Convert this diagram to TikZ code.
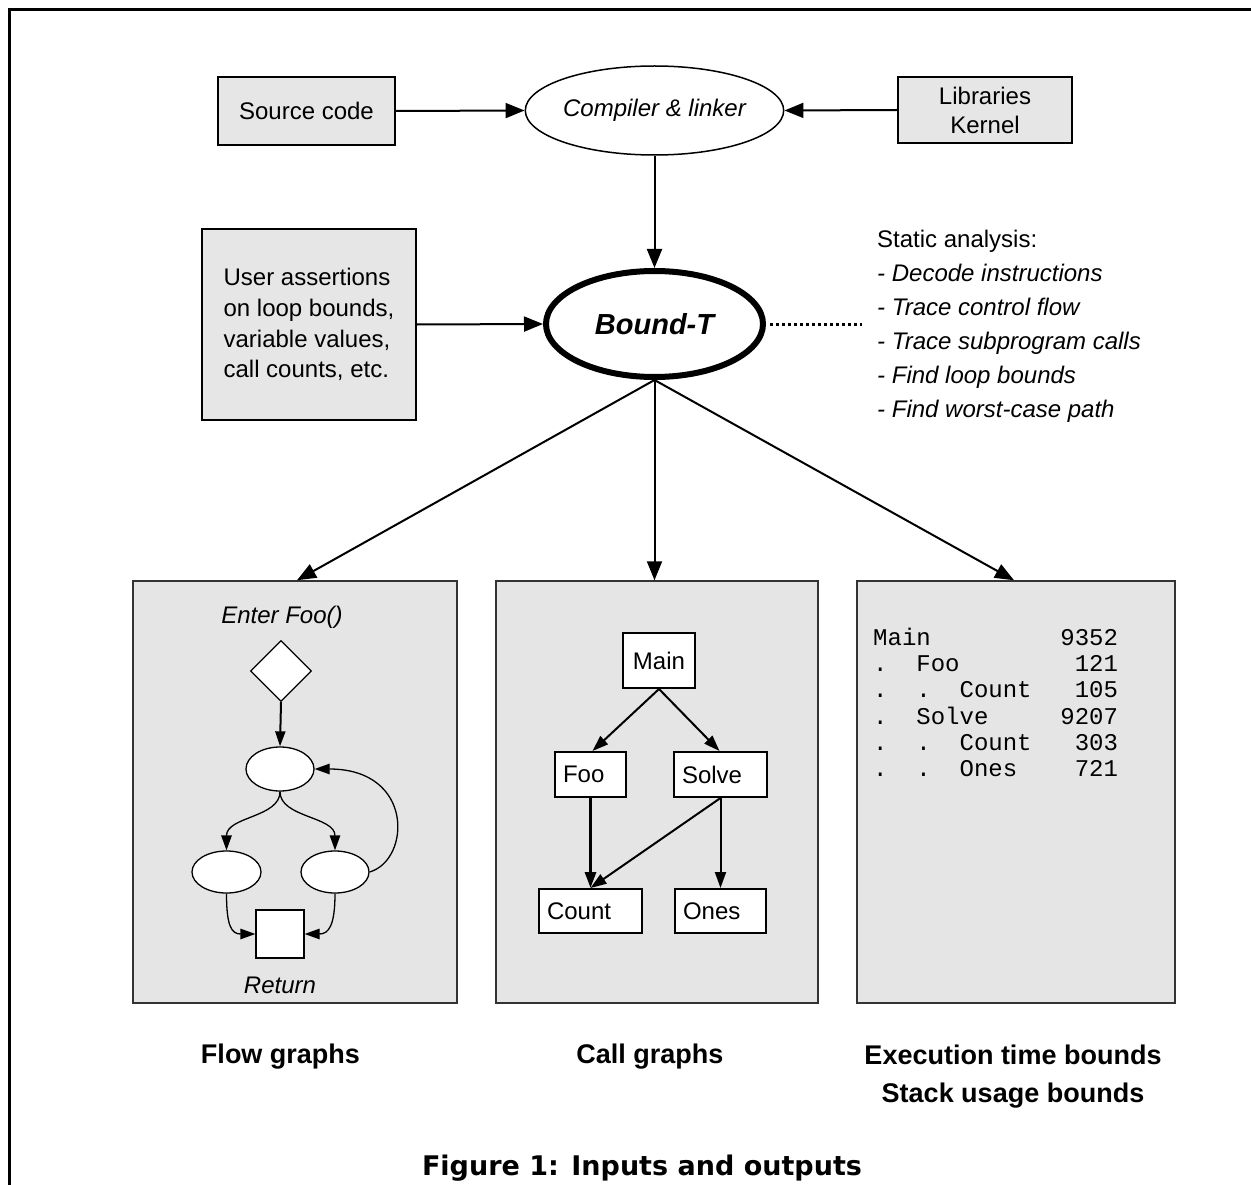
\documentclass[tikz,border=0pt]{standalone}
\usepackage{fontspec}
\setmainfont{Liberation Sans}
\setmonofont{Liberation Mono}
\newfontfamily\capfont{DejaVu Sans}
\usetikzlibrary{shapes.geometric,arrows.meta,calc}
\definecolor{boxgray}{HTML}{E6E6E6}
\definecolor{panelgray}{HTML}{E5E5E5}
\definecolor{panelline}{HTML}{333333}
\newcommand\mysz{\fontsize{24}{30}\selectfont}
\begin{document}
\begin{tikzpicture}[x=1pt,y=-1pt,
  every node/.style={font=\mysz},
  graybox/.style={draw=black, line width=2pt, fill=boxgray, inner sep=0pt},
  panel/.style={draw=panelline, line width=1.5pt, fill=panelgray, inner sep=0pt, minimum height=422},
  oval/.style={ellipse, draw=black, fill=white, line width=1.3pt, inner sep=0pt},
  dmd/.style={diamond, draw=black, fill=white, line width=1.3pt, inner sep=0pt},
  cbox/.style={draw=black, fill=white, line width=2pt, inner sep=0pt},
  lbox/.style={cbox, inner xsep=8pt, align=left},
  bigarrow/.style={line width=2pt, -{Triangle[length=19pt,width=15pt]}},
  midarrow/.style={line width=2pt, -{Triangle[length=15pt,width=10pt]}},
  smarrow/.style={line width=1.3pt, -{Triangle[length=15pt,width=10.5pt]}},
  carrow/.style={line width=2pt, -{Triangle[length=16pt,width=11pt]}},
  lbl/.style={font=\fontsize{27}{38}\selectfont\bfseries, align=center},
  itl/.style={font=\mysz\itshape}
]
\useasboundingbox (0,0) rectangle (1251,1185);
% frame
\draw[line width=3pt] (1251,10) -- (9.5,10) -- (9.5,1185);

% top row
\node[graybox, minimum width=177, minimum height=68] (src) at (306.5,111) {Source code};
\node[oval, line width=1.5pt, minimum width=254, minimum height=89, font=\mysz\itshape] (cl) at (654.5,110.5) {Compiler \& linker};
\node[graybox, minimum width=174, minimum height=66, align=center, font=\fontsize{24}{29}\selectfont] (lib) at (985,110) {Libraries\\Kernel};

% Bound-T
\node[ellipse, draw=black, line width=6pt, inner sep=0pt, minimum width=217, minimum height=106, font=\fontsize{29}{34}\selectfont\bfseries\itshape] (bt) at (654.5,324) {Bound-T};
\node[graybox, minimum width=214, minimum height=191, align=left, font=\fontsize{24}{30.7}\selectfont] (ua) at (309,324.5) {User assertions\\on loop bounds,\\variable values,\\call counts, etc.};
\coordinate (dotend) at (862,324);
\node[anchor=north west, inner sep=0pt, align=left, font=\fontsize{24}{34}\selectfont] (sa) at (877,229.5) {Static analysis:\\\textit{- Decode instructions}\\\textit{- Trace control flow}\\\textit{- Trace subprogram calls}\\\textit{- Find loop bounds}\\\textit{- Find worst-case path}};

\draw[bigarrow] (src.east) -- (cl.west);
\draw[bigarrow] (lib.west) -- (cl.east);
\draw[bigarrow] (cl.south) -- (bt.north);
\draw[bigarrow] (ua.east) -- (bt.west);
\draw[line width=3pt, dash pattern=on 3pt off 3pt] ([xshift=4pt]bt.east) -- (dotend);

% panels
\node[panel, minimum width=324] (p1) at (295,792) {};
\node[panel, minimum width=322] (p2) at (657,792) {};
\node[panel, minimum width=318] (p3) at (1016,792) {};

\draw[bigarrow] (bt.south) -- ([xshift=2pt]p1.north);
\draw[bigarrow] (bt.south) -- (bt.south |- p2.north);
\draw[bigarrow] (bt.south) -- ([xshift=-2pt]p3.north);

% flow graph
\node[itl] (ef) at (282,617) {Enter Foo()};
\node[dmd, minimum width=61, minimum height=61] (dm) at (281,671) {};
\node[oval, minimum width=68, minimum height=44] (e1) at (280,769) {};
\node[oval, minimum width=69, minimum height=42] (e2) at (226.5,872) {};
\node[oval, minimum width=68, minimum height=42] (e3) at (335,872) {};
\node[draw=black, fill=white, line width=1.3pt, inner sep=0pt, minimum width=48, minimum height=48] (sq) at (280,934) {};
\node[itl] (rt) at (280,985) {Return};

\draw[midarrow] (dm.south) -- (e1.north);
\draw[smarrow] (e1.south) .. controls +(0,26) and +(0,-34) .. (e2.north);
\draw[smarrow] (e1.south) .. controls +(0,26) and +(0,-34) .. (e3.north);
\draw[smarrow] (e3.east) .. controls +(41,-12) and +(100,0) .. (e1.east);
\draw[smarrow] (e2.south) .. controls +(0,32) and +(-24,0) .. (sq.west);
\draw[smarrow] (e3.south) .. controls +(0,32) and +(24,0) .. (sq.east);

% call graph
\node[cbox, minimum width=72, minimum height=55] (mn) at (659,660.5) {Main};
\node[lbox, text width=55, minimum height=45] (foo) at (590.5,774.5) {Foo};
\node[lbox, text width=77, minimum height=45] (sv) at (720.5,774.5) {Solve};
\node[lbox, text width=87, minimum height=44] (ct) at (590.5,911) {Count};
\node[lbox, text width=75, minimum height=44] (on) at (720.5,911) {Ones};

\draw[carrow] (mn.south) -- ([xshift=2pt]foo.north);
\draw[carrow] (mn.south) -- ([xshift=-1pt]sv.north);
\draw[carrow, line width=3pt] (foo.south) -- (ct.north);
\draw[carrow] (sv.south) -- (on.north);
\draw[carrow] (sv.south) -- (ct.north);

% bounds listing
\node[anchor=north west, inner sep=0pt, align=left, font=\ttfamily\fontsize{24}{26.2}\selectfont] (code) at (873,628) {Main~~~~~~~~~9352\\.~~Foo~~~~~~~~121\\.~~.~~Count~~~105\\.~~Solve~~~~~9207\\.~~.~~Count~~~303\\.~~.~~Ones~~~~721};

% labels
\node[lbl] (fg) at (280.5,1057) {Flow graphs};
\node[lbl] (cg) at (650,1057) {Call graphs};
\node[lbl] (eb) at (1013,1077) {Execution time bounds\\Stack usage bounds};
\node[font=\capfont\fontsize{27}{32}\selectfont\bfseries] (cap) at (642,1168) {Figure 1: Inputs and outputs};
\end{tikzpicture}
\end{document}
